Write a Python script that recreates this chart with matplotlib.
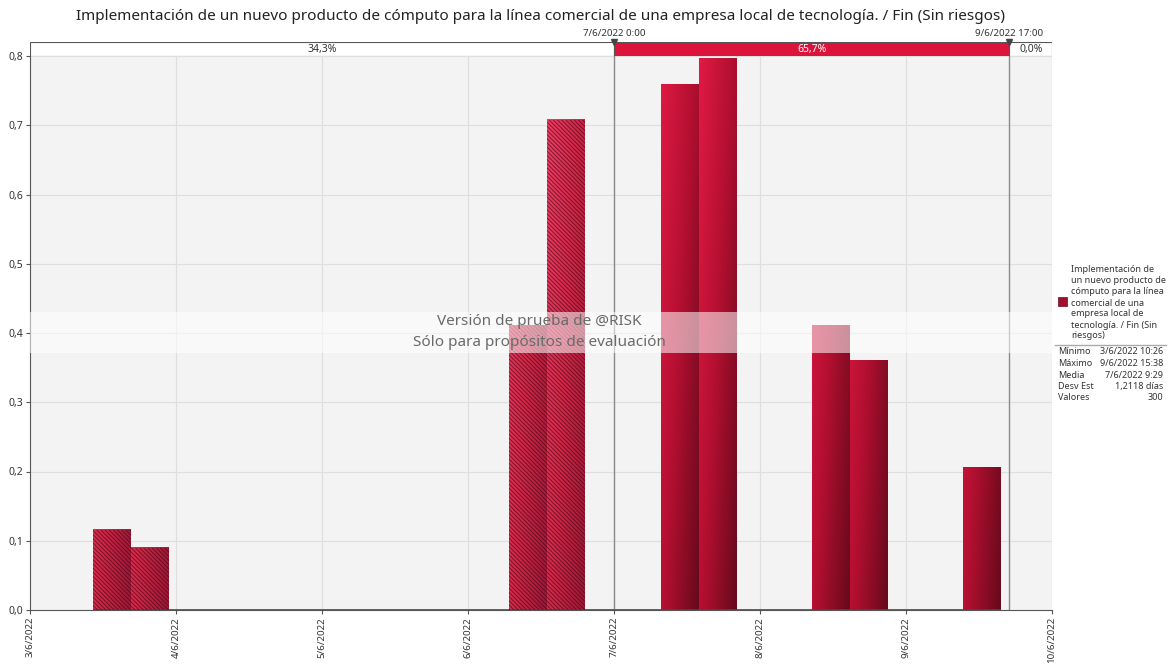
import numpy as np
import matplotlib.pyplot as plt
from matplotlib.colors import LinearSegmentedColormap
from matplotlib.patches import Rectangle

plt.rcParams['font.family'] = ['Noto Sans', 'DejaVu Sans']
plt.rcParams['hatch.linewidth'] = 0.7

title = ('Implementación de un nuevo producto de cómputo para la línea comercial '
         'de una empresa local de tecnología. / Fin (Sin riesgos)')
day_labels = ['3/6/2022', '4/6/2022', '5/6/2022', '6/6/2022',
              '7/6/2022', '8/6/2022', '9/6/2022', '10/6/2022']
y_labels = ['0,0', '0,1', '0,2', '0,3', '0,4', '0,5', '0,6', '0,7', '0,8']

# histogram, x in days after 3/6/2022 0:00
bin_lo = 0.4347   # 3/6/2022 10:26
bin_hi = 6.6514   # 9/6/2022 15:38
density = [0.116, 0.090, 0, 0, 0, 0, 0, 0, 0, 0, 0, 0.411, 0.708, 0, 0,
           0.759, 0.797, 0, 0, 0.411, 0.360, 0, 0, 0.206]

marker_pos = [4.0, 6.7083]
marker_labels = ['7/6/2022 0:00', '9/6/2022 17:00']
band_pcts = ['34,3%', '65,7%', '0,0%']

legend_lines = ['Implementación de', 'un nuevo producto de', 'cómputo para la línea',
                'comercial de una', 'empresa local de', 'tecnología. / Fin (Sin',
                'riesgos)']
stat_names = ['Mínimo', 'Máximo', 'Media', 'Desv Est', 'Valores']
stat_values = ['3/6/2022 10:26', '9/6/2022 15:38', '7/6/2022 9:29', '1,2118 días', '300']

W, H = 1168, 664


def fx(px):
    return px / W


def fy(py):
    return 1 - py / H


fig = plt.figure(figsize=(W / 100, H / 100), dpi=100)
ax = fig.add_axes([fx(30), fy(610), fx(1052) - fx(30), fy(56) - fy(610)])
ax.set_facecolor('#f3f3f3')

solid_cmap = LinearSegmentedColormap.from_list('solid', ['#e01a44', '#b20f30', '#660a1c'])
hatch_cmap = LinearSegmentedColormap.from_list('hatch', ['#f04068', '#d42848', '#9a1836'])

n = len(density)
width = (bin_hi - bin_lo) / n
edges = bin_lo + width * np.arange(n + 1)

for i, h in enumerate(density):
    if h <= 0:
        continue
    x0, x1 = edges[i], edges[i + 1]
    u = np.linspace(0, 1, 40)
    yy = np.linspace(0, h, 80)
    val = 0.55 * u[None, :] + 0.45 * (1 - yy[:, None] / 0.8)
    hatched = x1 <= marker_pos[0]
    cmap = hatch_cmap if hatched else solid_cmap
    ax.imshow(val, cmap=cmap, vmin=0, vmax=1, extent=[x0, x1, 0, h],
              origin='lower', aspect='auto', zorder=3, interpolation='bilinear')
    if hatched:
        ax.add_patch(Rectangle((x0, 0), x1 - x0, h, fill=False, hatch='\\\\\\\\\\\\\\\\',
                               edgecolor='#4a0616', linewidth=0, zorder=4, alpha=0.65))

ax.hlines(0, edges[0], edges[-1], color='#b01836', lw=1.2, zorder=3)

for p in marker_pos:
    ax.axvline(p, color='#8a8a8a', lw=1, zorder=2)

ax.set_xlim(0, 7)
ax.set_ylim(0, 0.8)
ax.set_xticks(range(8))
ax.set_xticklabels(day_labels, rotation=90, fontsize=7, color='#333333')
ax.set_yticks(np.arange(9) / 10)
ax.set_yticklabels(y_labels, fontsize=7.5, color='#333333')
ax.grid(True, color='#dedede', lw=0.8, zorder=0)
ax.set_axisbelow(True)
for s in ['top', 'right']:
    ax.spines[s].set_visible(False)
ax.spines['left'].set_color('#555555')
ax.spines['bottom'].set_color('#555555')
ax.tick_params(length=3, color='#555555', pad=2)

# watermark
ax.axhspan(0.371, 0.430, color='white', alpha=0.55, zorder=5, lw=0)
ax.text(3.49, 0.416, 'Versión de prueba de @RISK', ha='center', va='center',
        fontsize=11, color='#6a6a6a', zorder=6)
ax.text(3.49, 0.386, 'Sólo para propósitos de evaluación', ha='center', va='center',
        fontsize=11, color='#6a6a6a', zorder=6)

# top delimiter band
bx = fig.add_axes([fx(30), fy(56), fx(1052) - fx(30), fy(42) - fy(56)])
bx.set_xlim(0, 7)
bx.set_ylim(0, 1)
bx.axis('off')
segs = [0, marker_pos[0], marker_pos[1], 7]
fills = ['white', '#dc143c', 'white']
tcols = ['#333333', 'white', '#333333']
for k in range(3):
    bx.add_patch(Rectangle((segs[k], 0), segs[k + 1] - segs[k], 1, facecolor=fills[k],
                           edgecolor='#555555', lw=0.8))
    bx.text((segs[k] + segs[k + 1]) / 2, 0.45, band_pcts[k], ha='center', va='center',
            fontsize=7.5, color=tcols[k])
for p, lab in zip(marker_pos, marker_labels):
    bx.plot([p], [1.0], marker='v', color='#444444', markersize=4, clip_on=False)
    bx.text(p, 1.25, lab, ha='center', va='bottom', fontsize=7, color='#333333', clip_on=False)

fig.text(0.5 * (fx(75) + fx(1005)), fy(17), title, ha='center', va='center',
         fontsize=11, color='#222222')

# legend + stats
fig.patches.append(Rectangle((fx(1058), fy(306)), fx(9), 9 / H, transform=fig.transFigure,
                             facecolor='#a0102e', edgecolor='#70081c', lw=0.5))
for k, line in enumerate(legend_lines):
    fig.text(fx(1071), fy(270 + 11 * k), line, ha='left', va='center', fontsize=6.5,
             color='#333333')
fig.add_artist(plt.Line2D([fx(1055), fx(1166)], [fy(345), fy(345)], color='#aaaaaa', lw=1))
for k, (nm, vl) in enumerate(zip(stat_names, stat_values)):
    yk = fy(352 + 11.5 * k)
    fig.text(fx(1058), yk, nm, ha='left', va='center', fontsize=6.5, color='#333333')
    fig.text(fx(1163), yk, vl, ha='right', va='center', fontsize=6.5, color='#333333')

fig.savefig('out.png', dpi=100)
